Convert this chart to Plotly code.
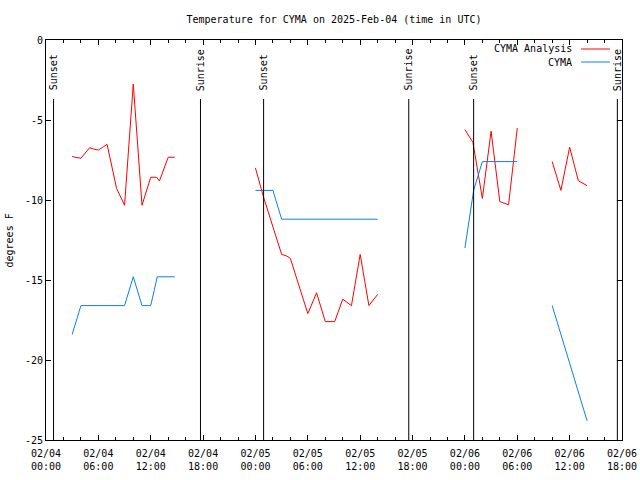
import plotly.graph_objects as go

# ---- data (degrees F, UTC) ----
analysis_times = [
    "2025-02-04 03:00", "2025-02-04 03:20", "2025-02-04 04:00", "2025-02-04 04:25",
    "2025-02-04 05:00", "2025-02-04 05:25", "2025-02-04 06:00", "2025-02-04 06:35",
    "2025-02-04 07:00", "2025-02-04 08:05", "2025-02-04 09:00", "2025-02-04 10:00",
    "2025-02-04 11:00", "2025-02-04 12:00", "2025-02-04 12:40", "2025-02-04 13:00",
    "2025-02-04 14:00", "2025-02-04 14:45", None,
    "2025-02-05 00:00", "2025-02-05 00:55", "2025-02-05 03:00", "2025-02-05 03:35",
    "2025-02-05 04:00", "2025-02-05 06:00", "2025-02-05 07:00", "2025-02-05 08:00",
    "2025-02-05 09:05", "2025-02-05 10:00", "2025-02-05 11:00", "2025-02-05 12:00",
    "2025-02-05 13:00", "2025-02-05 14:00", None,
    "2025-02-06 00:00", "2025-02-06 00:55", "2025-02-06 02:00", "2025-02-06 03:00",
    "2025-02-06 04:00", "2025-02-06 05:00", "2025-02-06 06:00", None,
    "2025-02-06 10:00", "2025-02-06 11:00", "2025-02-06 12:00", "2025-02-06 13:00",
    "2025-02-06 14:00",
]
analysis_values = [
    -7.27, -7.33, -7.39, -7.13,
    -6.73, -6.81, -6.88, -6.67,
    -6.52, -9.27, -10.33, -2.75,
    -10.33, -8.58, -8.58, -8.81,
    -7.33, -7.33, None,
    -8.0, -9.8, -13.4, -13.5,
    -13.65, -17.1, -15.8, -17.6,
    -17.6, -16.2, -16.6, -13.4,
    -16.6, -15.9, None,
    -5.6, -6.4, -9.9, -5.7,
    -10.1, -10.3, -5.5, None,
    -7.6, -9.4, -6.7, -8.8,
    -9.1,
]

obs_times = [
    "2025-02-04 03:00", "2025-02-04 04:00", "2025-02-04 09:00", "2025-02-04 10:00",
    "2025-02-04 11:00", "2025-02-04 12:00", "2025-02-04 12:45", "2025-02-04 14:45", None,
    "2025-02-05 00:00", "2025-02-05 02:00", "2025-02-05 03:00", "2025-02-05 14:00", None,
    "2025-02-06 00:00", "2025-02-06 01:00", "2025-02-06 02:00", "2025-02-06 06:00", None,
    "2025-02-06 10:00", "2025-02-06 14:00",
]
obs_values = [
    -18.4, -16.6, -16.6, -14.8,
    -16.6, -16.6, -14.8, -14.8, None,
    -9.4, -9.4, -11.2, -11.2, None,
    -13.0, -9.4, -7.6, -7.6, None,
    -16.6, -23.8,
]

sunset_times = ["2025-02-04 00:52", "2025-02-05 00:56", "2025-02-06 01:00"]
sunrise_times = ["2025-02-04 17:42", "2025-02-05 17:34", "2025-02-06 17:28"]

x_tick_vals = [
    "2025-02-04 00:00", "2025-02-04 06:00", "2025-02-04 12:00", "2025-02-04 18:00",
    "2025-02-05 00:00", "2025-02-05 06:00", "2025-02-05 12:00", "2025-02-05 18:00",
    "2025-02-06 00:00", "2025-02-06 06:00", "2025-02-06 12:00", "2025-02-06 18:00",
]
x_tick_text = [
    "02/04<br>00:00", "02/04<br>06:00", "02/04<br>12:00", "02/04<br>18:00",
    "02/05<br>00:00", "02/05<br>06:00", "02/05<br>12:00", "02/05<br>18:00",
    "02/06<br>00:00", "02/06<br>06:00", "02/06<br>12:00", "02/06<br>18:00",
]
y_tick_vals = [0, -5, -10, -15, -20, -25]
y_tick_text = ["0", "-5", "-10", "-15", "-20", "-25"]

series_names = ["CYMA Analysis", "CYMA"]
series_colors = ["#ff0000", "#0a7ff0"]

FONT = "DejaVu Sans Mono"

fig = go.Figure()
fig.add_trace(go.Scatter(x=analysis_times, y=analysis_values, mode="lines",
                         line=dict(color=series_colors[0], width=1),
                         connectgaps=False, showlegend=False, name=series_names[0]))
fig.add_trace(go.Scatter(x=obs_times, y=obs_values, mode="lines",
                         line=dict(color=series_colors[1], width=1),
                         connectgaps=False, showlegend=False, name=series_names[1]))

# sunrise / sunset markers
for label, times in (("Sunset", sunset_times), ("Sunrise", sunrise_times)):
    for t in times:
        fig.add_shape(type="line", xref="x", yref="paper", x0=t, x1=t, y0=0, y1=0.8525,
                      line=dict(color="black", width=1))
        fig.add_annotation(x=t, xref="x", y=0.868, yref="paper", text=label,
                           textangle=-90, showarrow=False, xanchor="center",
                           yanchor="bottom", font=dict(family=FONT, size=10, color="black"))

# manual gnuplot-style legend (text left, sample right)
legend_rows = [0.9775, 0.945]
for name, color, yy in zip(series_names, series_colors, legend_rows):
    fig.add_annotation(x=0.9166, xref="paper", y=yy, yref="paper", text=name,
                       showarrow=False, xanchor="right", yanchor="middle",
                       font=dict(family=FONT, size=10, color="black"))
    fig.add_shape(type="line", xref="paper", yref="paper", x0=0.929, x1=0.979,
                  y0=yy, y1=yy, line=dict(color=color, width=1))

# y-axis title
fig.add_annotation(x=-0.0634, xref="paper", y=0.5, yref="paper", text="degrees F",
                   textangle=-90, showarrow=False, xanchor="center", yanchor="middle",
                   font=dict(family=FONT, size=10, color="black"))

fig.update_layout(
    width=640, height=480,
    margin=dict(l=46, r=18, t=40, b=40, autoexpand=False),
    paper_bgcolor="white", plot_bgcolor="white",
    font=dict(family=FONT, size=10, color="black"),
    title=dict(text="Temperature for CYMA on 2025-Feb-04 (time in UTC)",
               x=0.5, xref="paper", xanchor="center", y=0.96, yanchor="middle",
               font=dict(family=FONT, size=10, color="black")),
    xaxis=dict(type="date", range=["2025-02-04 00:00", "2025-02-06 18:00"],
               tickvals=x_tick_vals, ticktext=x_tick_text, automargin=False,
               ticks="inside", ticklen=5, tickcolor="black", ticklabelstandoff=4,
               minor=dict(dtick=7200000, tick0="2025-02-04 00:00", ticks="inside",
                          ticklen=3, tickcolor="black", showgrid=False),
               showline=True, linecolor="black", linewidth=1, mirror="ticks",
               showgrid=False, zeroline=False,
               tickfont=dict(family=FONT, size=10)),
    yaxis=dict(range=[-25, 0], tickvals=y_tick_vals, ticktext=y_tick_text,
               automargin=False,
               ticks="inside", ticklen=5, tickcolor="black",
               showline=True, linecolor="black", linewidth=1, mirror="ticks",
               showgrid=False, zeroline=False,
               tickfont=dict(family=FONT, size=10)),
)

fig.write_html("out.html", config={"displayModeBar": False},
               post_script="document.body.style.margin='0px';document.body.style.overflow='hidden';")
